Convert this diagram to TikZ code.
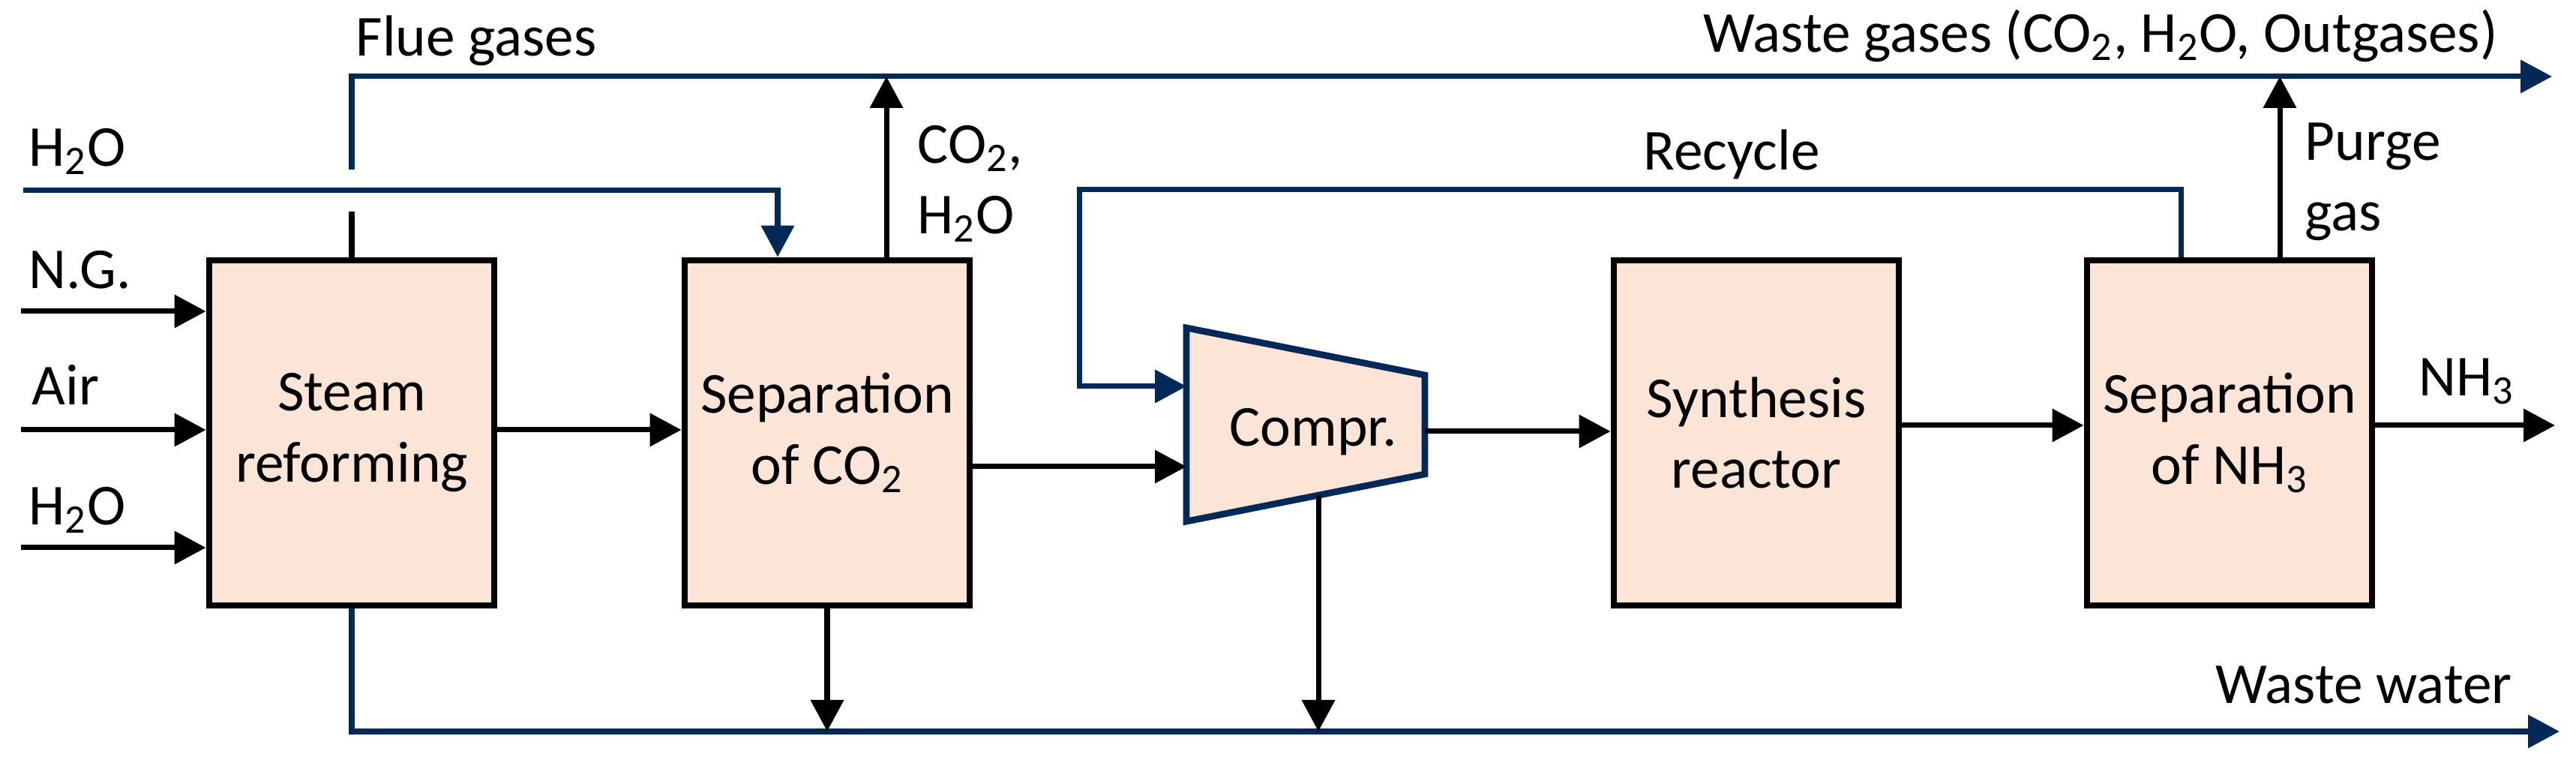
\documentclass[tikz,border=0pt]{standalone}
\usepackage{fontspec}
\setmainfont{Carlito}
\usepackage{tikz}
\usetikzlibrary{arrows.meta}
\definecolor{lpeach}{RGB}{252, 229, 214}
\definecolor{dblue}{RGB}{0, 41, 87}

\begin{document}
\begin{tikzpicture}[
	unit/.style = {draw, line width = 2.5pt, fill = lpeach, minimum width = 3.8cm, minimum height = 4.6cm, align = center, inner sep = 0pt},
	pipe/.style = {line width = 2pt},
	flow/.style = {pipe, -{Triangle[length = 4.2mm, width = 4.3mm]}},
	bflow/.style = {flow, draw = dblue},
	lbl/.style = {anchor = base west, inner sep = 0pt},
	font = \fontsize{22}{27}\selectfont]
			\useasboundingbox (0,0) rectangle (34.35,10.17);
			% process units
			\node (steam) at (4.69,4.40) [unit] {Steam\\reforming};
			\node (sepco) at (11.03,4.40) [unit] {Separation\\of CO\textsubscript{2}};
			\node (synth) at (23.42,4.40) [unit] {Synthesis\\reactor};
			\node (sepnh) at (29.73,4.40) [unit] {Separation\\of NH\textsubscript{3}};
			% compressor
			\coordinate (c1) at (15.82,5.80);
			\coordinate (c2) at (19.00,5.17);
			\coordinate (c3) at (19.00,3.85);
			\coordinate (c4) at (15.82,3.22);
			\draw[line width = 2.5pt, draw = dblue, fill = lpeach] (c1) -- (c2) -- (c3) -- (c4) -- cycle;
			\node (comp) at (17.51,4.22) [anchor = base] {Compr.};
			\coordinate (cin) at (15.82,3.95);
			\coordinate (crec) at (15.82,5.02);
			\coordinate (cout) at (19.00,4.42);
			\coordinate (cbot) at (17.58,3.57);
			% free ends
			\coordinate (ng) at (0.28,6.02);
			\coordinate (air) at (0.28,4.44);
			\coordinate (wat) at (0.28,2.87);
			\coordinate (h2o) at (0.31,7.63);
			\coordinate (flueA) at (4.69,7.35);
			\coordinate (flueB) at (4.69,7.91);
			\coordinate (wg) at (34.03,9.15);
			\coordinate (ww) at (34.13,0.42);
			\coordinate (rec) at (14.39,7.64);
			\coordinate (nh3) at (34.07,4.50);
			% streams
			\draw[flow] (ng) -- (ng -| steam.west);
			\draw[flow] (air) -- (air -| steam.west);
			\draw[flow] (wat) -- (wat -| steam.west);
			\draw[flow] (steam.east |- air) -- (sepco.west |- air);
			\draw[flow] (sepco.east |- cin) -- (cin);
			\draw[flow] (cout) -- (cout -| synth.west);
			\draw[flow] (synth.east |- nh3) -- (sepnh.west |- nh3);
			\draw[flow] (sepnh.east |- nh3) -- (nh3);
			\draw[bflow] (h2o) -| ([xshift = -0.66cm]sepco.north);
			\draw[pipe] (steam.north) -- (flueA);
			\draw[bflow] (flueB) |- (wg);
			\draw[flow] ([xshift = 0.79cm]sepco.north) -- ([xshift = 0.79cm]sepco.north |- wg);
			\draw[flow] ([xshift = 0.67cm]sepnh.north) -- ([xshift = 0.67cm]sepnh.north |- wg);
			\draw[bflow] ([xshift = -0.65cm]sepnh.north) |- (rec) |- (crec);
			\draw[bflow] (steam.south) |- (ww);
			\draw[flow] (sepco.south) -- (sepco.south |- ww);
			\draw[flow] (cbot) -- (cbot |- ww);
			% labels
			\node (flue) at (4.74,9.42) [lbl] {Flue gases};
			\node (wgas) at (22.71,9.47) [lbl] {Waste gases (CO\textsubscript{2}, H\textsubscript{2}O, Outgases)};
			\node (h2ol) at (0.38,7.95) [lbl] {H\textsubscript{2}O};
			\node (ngl) at (0.38,6.32) [lbl] {N.G.};
			\node (airl) at (0.42,4.77) [lbl] {Air};
			\node (watl) at (0.38,3.17) [lbl] {H\textsubscript{2}O};
			\node (co2l) at (12.23,7.05) [lbl, align = left] {CO\textsubscript{2},\\H\textsubscript{2}O};
			\node (recl) at (21.91,7.90) [lbl] {Recycle};
			\node (purge) at (30.73,7.09) [lbl, align = left] {Purge\\gas};
			\node (nh3l) at (32.25,4.89) [lbl] {NH\textsubscript{3}};
			\node (wwl) at (29.54,0.79) [lbl] {Waste water};
\end{tikzpicture}
\end{document}
